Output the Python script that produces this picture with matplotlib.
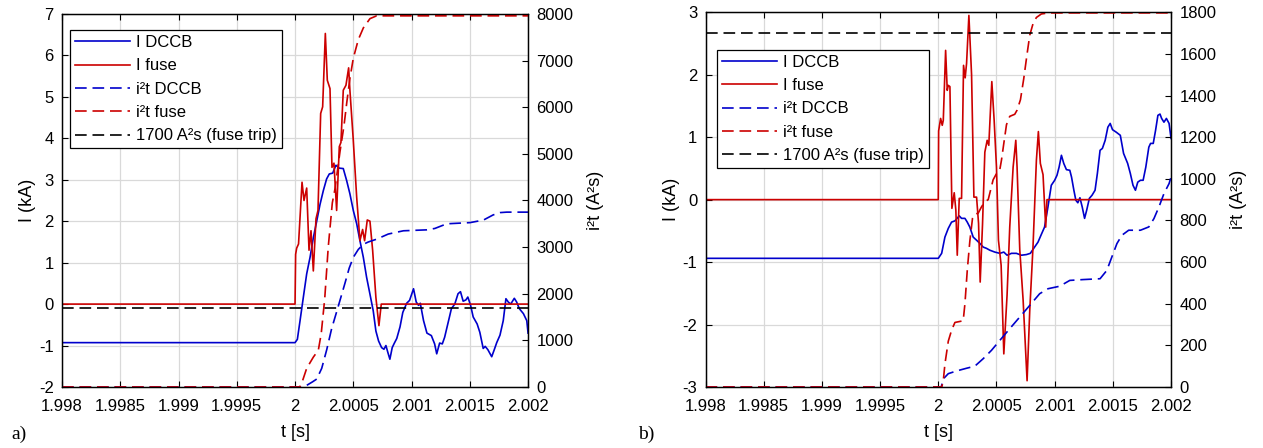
import numpy as np
import matplotlib
matplotlib.use("Agg")
import matplotlib.pyplot as plt

plt.rcParams['font.family'] = ['Liberation Sans', 'DejaVu Sans']
plt.rcParams['axes.unicode_minus'] = False

# time values are given in microseconds after t = 2 s
# ---- panel a) ----
a_dccb_us = [-2000, 0, 20, 43, 71, 100, 129, 157, 186, 214, 243, 271, 294, 323, 351, 380, 414, 443,
             471, 500, 529, 557, 586, 614, 643, 671, 694, 717, 743, 763, 780, 797, 814, 834, 851,
             873, 901, 925, 958, 983, 1017, 1040, 1060, 1075, 1103, 1132, 1170, 1198, 1216, 1241,
             1264, 1284, 1322, 1342, 1371, 1399, 1420, 1443, 1466, 1483, 1506, 1529, 1563, 1586,
             1615, 1632, 1655, 1688, 1710, 1731, 1759, 1787, 1810, 1830, 1851, 1882, 1902, 1925,
             1960, 1989, 2000]
a_dccb_I = [-0.93, -0.93, -0.85, -0.4, 0.16, 0.73, 1.13, 1.6, 2.0, 2.4, 2.74, 3.02, 3.14, 3.16, 3.35,
            3.28, 3.27, 2.98, 2.66, 2.26, 1.94, 1.53, 1.13, 0.65, 0.24, -0.16, -0.65, -0.89, -1.05,
            -1.09, -1.0, -1.17, -1.33, -1.05, -0.95, -0.83, -0.55, -0.2, 0.02, 0.09, 0.37, 0.05,
            -0.03, 0.02, -0.4, -0.7, -0.76, -0.96, -1.2, -0.94, -0.96, -0.8, -0.35, -0.11, 0.0,
            0.25, 0.3, 0.07, 0.1, 0.17, -0.02, -0.31, -0.48, -0.68, -1.07, -1.02, -1.1, -1.27,
            -1.1, -0.93, -0.75, -0.4, 0.13, 0.05, 0.0, 0.14, 0.05, -0.11, -0.23, -0.4, -0.7]

a_fuse_us = [-2000, 0, 5, 14, 30, 60, 77, 100, 120, 137, 157, 180, 197, 220, 237, 260, 277, 300,
             317, 334, 357, 380, 394, 414, 437, 460, 471, 500, 529, 557, 580, 597, 620, 643, 666,
             694, 720, 740, 2000]
a_fuse_I = [0, 0, 1.2, 1.35, 1.45, 2.94, 2.5, 2.8, 1.3, 1.77, 0.8, 2.06, 2.26, 4.6, 4.76, 6.53,
            5.4, 5.2, 3.3, 3.4, 2.26, 3.8, 3.9, 5.16, 5.28, 5.7, 5.16, 3.95, 2.58, 1.53, 1.8, 1.53,
            2.03, 2.0, 1.3, 0.16, -0.52, 0, 0]

a_i2t_dccb_us = [-2000, 0, 50, 100, 150, 186, 229, 272, 314, 358, 400, 429, 465, 500, 543, 586,
                 629, 700, 800, 930, 1130, 1200, 1302, 1502, 1617, 1700, 1760, 1817, 2000]
a_i2t_dccb = [0, 0, 3, 35, 110, 170, 400, 800, 1250, 1620, 1980, 2230, 2550, 2780, 2950, 3060,
              3110, 3170, 3280, 3350, 3370, 3400, 3500, 3525, 3580, 3690, 3740, 3750, 3750]

a_i2t_fuse_us = [-2000, 0, 40, 60, 100, 157, 200, 225, 255, 285, 320, 343, 386, 420, 444, 470,
                 500, 543, 586, 643, 700, 2000]
a_i2t_fuse = [0, 0, 0, 100, 400, 640, 790, 1150, 1900, 3000, 3950, 4250, 5050, 5600, 6100, 6600,
              7050, 7450, 7700, 7900, 7960, 7960]

# ---- panel b) ----
b_dccb_us = [-2000, 0, 29, 57, 86, 114, 143, 180, 200, 229, 249, 271, 300, 329, 357, 386, 414, 443,
             486, 529, 563, 591, 629, 671, 714, 757, 791, 820, 857, 880, 913, 942, 971, 1000, 1020,
             1038, 1058, 1078, 1101, 1130, 1145, 1165, 1182, 1199, 1217, 1237, 1257, 1275, 1298,
             1321, 1347, 1367, 1390, 1410, 1434, 1457, 1477, 1497, 1529, 1564, 1592, 1627, 1650,
             1673, 1694, 1714, 1737, 1760, 1783, 1809, 1824, 1847, 1867, 1887, 1905, 1919, 1939,
             1960, 1983, 2000]
b_dccb_I = [-0.94, -0.94, -0.86, -0.6, -0.46, -0.36, -0.34, -0.26, -0.3, -0.3, -0.36, -0.44, -0.6,
            -0.65, -0.7, -0.76, -0.78, -0.81, -0.84, -0.86, -0.84, -0.89, -0.86, -0.86, -0.89,
            -0.88, -0.86, -0.78, -0.68, -0.58, -0.44, -0.12, 0.23, 0.31, 0.39, 0.52, 0.71, 0.58,
            0.48, 0.47, 0.36, 0.15, -0.01, -0.05, 0.03, -0.12, -0.3, -0.17, 0.02, 0.07, 0.15, 0.42,
            0.79, 0.82, 0.95, 1.16, 1.22, 1.12, 1.08, 1.03, 0.74, 0.58, 0.42, 0.23, 0.15, 0.28,
            0.31, 0.31, 0.52, 0.84, 0.9, 0.9, 1.11, 1.35, 1.37, 1.3, 1.24, 1.3, 1.22, 0.98]

b_fuse_us = [-2000, 0, 3, 20, 34, 43, 63, 77, 86, 100, 117, 137, 151, 163, 180, 200, 217, 231, 243,
             263, 286, 306, 329, 346, 360, 380, 400, 420, 434, 460, 480, 500, 517, 540, 563, 591,
             614, 643, 666, 677, 700, 729, 763, 786, 814, 843, 860, 877, 900, 923, 934, 2000]
b_fuse_I = [0, 0, 1.1, 1.3, 1.19, 1.27, 2.39, 1.75, 1.83, 1.81, -0.14, 0.11, -0.17, -0.89, 0.02,
            0.02, 2.15, 1.95, 2.18, 2.95, 2.0, 0.04, 0.04, -0.38, -1.32, -0.4, 0.76, 0.95, 0.87,
            1.89, 1.27, 0.52, -0.65, -1.05, -2.47, -1.53, -0.44, 0.52, 0.95, 0.52, -0.8, -1.61,
            -2.9, -1.77, -0.75, 0.63, 1.09, 0.58, 0.4, -0.44, 0, 0]

b_i2t_dccb_us = [-2000, 0, 25, 45, 86, 157, 243, 314, 386, 457, 529, 614, 700, 786, 871, 943, 1043,
                 1130, 1246, 1390, 1448, 1491, 1535, 1578, 1636, 1737, 1809, 1853, 1896, 1939,
                 1983, 2000]
b_i2t_dccb = [0, 0, 0, 40, 64, 77, 90, 100, 136, 176, 224, 280, 336, 392, 448, 472, 484, 512, 516,
              520, 560, 624, 689, 729, 753, 753, 769, 809, 865, 929, 977, 1009]

b_i2t_fuse_us = [-2000, 0, 30, 43, 57, 86, 114, 143, 214, 229, 249, 271, 294, 314, 343, 371, 400,
                 429, 449, 471, 500, 529, 543, 563, 586, 614, 657, 677, 706, 734, 763, 786, 814,
                 843, 886, 950, 2000]
b_i2t_fuse = [0, 0, 0, 30, 110, 220, 272, 310, 318, 400, 560, 700, 810, 830, 835, 865, 890, 900,
              945, 995, 1025, 1045, 1090, 1170, 1260, 1300, 1310, 1330, 1380, 1480, 1600, 1690,
              1745, 1775, 1792, 1797, 1797]

fuse_trip = 1700
t_ticks = [1.998, 1.9985, 1.999, 1.9995, 2, 2.0005, 2.001, 2.0015, 2.002]
t_labels = ['1.998', '1.9985', '1.999', '1.9995', '2', '2.0005', '2.001', '2.0015', '2.002']

blue = '#0000cc'
red = '#cc0000'
dash = (7, 3.5)


def t_of(us):
    """convert microseconds after 2 s into seconds"""
    return 2 + np.array(us) * 1e-6


def panel(rect, dccb, fuse, i2t_dccb, i2t_fuse, ilim, iticks, qlim, qticks, leg_pos, tag, tag_x):
    ax = fig.add_axes(rect)
    ax2 = ax.twinx()

    l1, = ax.plot(t_of(dccb[0]), dccb[1], color=blue, lw=1.2, label='I DCCB')
    l2, = ax.plot(t_of(fuse[0]), fuse[1], color=red, lw=1.2, label='I fuse')
    l3, = ax2.plot(t_of(i2t_dccb[0]), i2t_dccb[1], color=blue, lw=1.2, dashes=dash, label='i²t DCCB')
    l4, = ax2.plot(t_of(i2t_fuse[0]), i2t_fuse[1], color=red, lw=1.2, dashes=dash, label='i²t fuse')
    l5 = ax2.axhline(fuse_trip, color='black', lw=1.2, dashes=dash, label='1700 A²s (fuse trip)')

    ax.set_xlim(1.998, 2.002)
    ax.set_ylim(*ilim)
    ax2.set_ylim(*qlim)
    ax.set_xticks(t_ticks)
    ax.set_xticklabels(t_labels)
    ax.set_yticks(iticks)
    ax2.set_yticks(qticks)

    ax.grid(True, color='#d9d9d9', lw=0.9)
    ax.set_axisbelow(True)
    ax.tick_params(direction='in', length=4, labelsize=12, top=True, pad=6)
    ax.tick_params(axis='x', pad=9)
    ax2.tick_params(direction='in', length=4, labelsize=12, pad=6)
    for a in (ax, ax2):
        for s in a.spines.values():
            s.set_linewidth(0.9)

    ax.set_xlabel('t [s]', fontsize=13, labelpad=7)
    ax.set_ylabel('I (kA)', fontsize=13, labelpad=2)
    ax2.set_ylabel('i²t (A²s)', fontsize=13, labelpad=10)

    leg = ax2.legend(handles=[l1, l2, l3, l4, l5], loc='upper left', bbox_to_anchor=leg_pos,
                     fontsize=12, fancybox=False, edgecolor='black', framealpha=1,
                     handlelength=3.3, handletextpad=0.35, labelspacing=0.5, borderpad=0.3,
                     borderaxespad=0)
    leg.get_frame().set_linewidth(0.9)

    fig.text(tag_x, 0.02, tag, fontsize=14, family='Liberation Serif')


fig = plt.figure(figsize=(12.63, 4.48), dpi=100)

panel([0.0491, 0.1362, 0.369, 0.8326],
      (a_dccb_us, a_dccb_I), (a_fuse_us, a_fuse_I),
      (a_i2t_dccb_us, a_i2t_dccb), (a_i2t_fuse_us, a_i2t_fuse),
      (-2, 7), range(-2, 8), (0, 8000), range(0, 8001, 1000), (0.017, 0.957), 'a)', 0.009)

panel([0.5586, 0.1362, 0.3686, 0.8364],
      (b_dccb_us, b_dccb_I), (b_fuse_us, b_fuse_I),
      (b_i2t_dccb_us, b_i2t_dccb), (b_i2t_fuse_us, b_i2t_fuse),
      (-3, 3), range(-3, 4), (0, 1800), range(0, 1801, 200), (0.025, 0.9), 'b)', 0.505)

fig.savefig('out.png', dpi=100)
